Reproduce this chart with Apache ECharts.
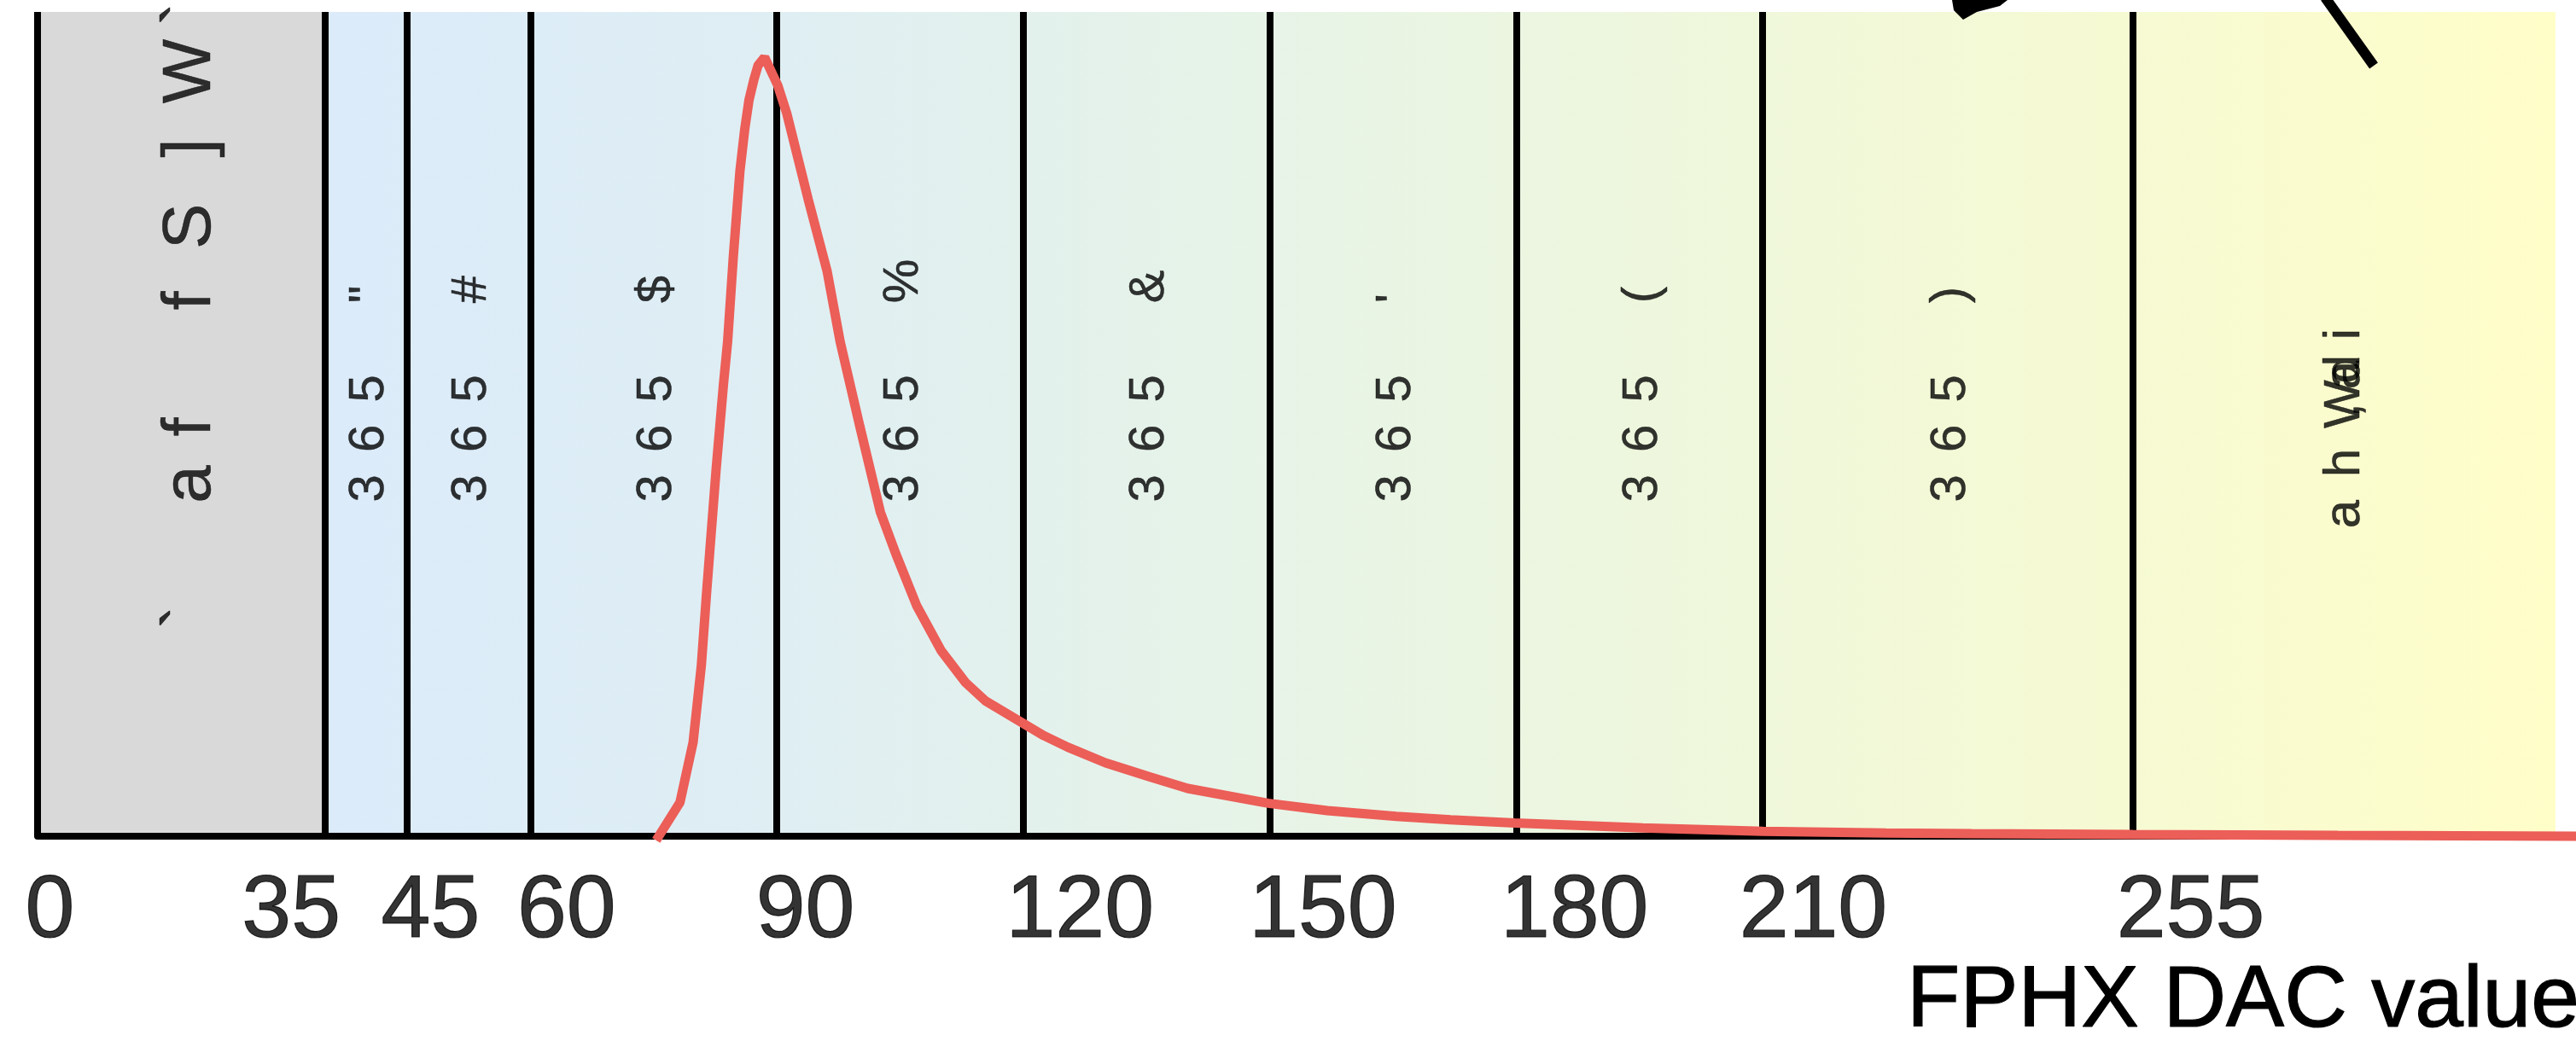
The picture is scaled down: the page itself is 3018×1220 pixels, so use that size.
<!DOCTYPE html>
<html><head><meta charset="utf-8">
<script src="https://cdn.jsdelivr.net/npm/echarts@6/dist/echarts.min.js"></script>
<style>html,body{margin:0;padding:0;background:#fff}#c{width:3018px;height:1220px}</style>
</head><body><div id="c"></div>
<script>
// ---------------- data ----------------
const bandEdges = [0, 35, 45, 60, 90, 120, 150, 180, 210, 255, 306.5];
const tickValues = [0, 35, 45, 60, 90, 120, 150, 180, 210, 255];
// glyphs of each band caption, read bottom-to-top
const bandTexts = [
  '` a f f S ] W `',
  '3 6 5 "',
  '3 6 5 #',
  '3 6 5 $',
  '3 6 5 %',
  '3 6 5 &',
  "3 6 5 '",
  '3 6 5 (',
  '3 6 5 )',
  'a h , W a d i'
];
const curveDac = [75.3, 78.2, 79.8, 80.8, 81.4, 81.8, 82.6, 83.5, 84.0, 84.7, 85.5, 86.1, 86.6, 87.2, 87.7, 88.5,
  90.1, 91.2, 93.8, 96.1, 97.7, 100.1, 102.6, 104.5, 107, 110, 113, 115.4, 119.8, 122.5, 125.4, 130, 135.4,
  140, 149.8, 157, 165.4, 172, 179.8, 188, 195.4, 210, 225, 235.4, 255, 280, 309];
const curveCounts = [-0.5, 4.1, 11.4, 20.7, 29.0, 34.2, 44.5, 54.9, 60.0, 70.4, 80.7, 85.9, 89.3, 91.8, 93.5, 94.5,
  91.1, 87.7, 77.3, 68.6, 60.0, 49.7, 39.3, 34.2, 28.0, 22.5, 18.6, 16.4, 13.8, 12.2, 10.8, 8.9, 7.2,
  5.8, 4.0, 3.1, 2.4, 2.0, 1.6, 1.3, 1.0, 0.6, 0.4, 0.3, 0.2, 0.1, 0.0];
const axisTitle = 'FPHX DAC value';

// ---------------- styles ----------------
const FONT = '"Liberation Sans", Helvetica, Arial, sans-serif';
const TICK_FONT = 104;
const TICK_DX_DEFAULT = -20;
const TICK_DX = {0: -14, 35: -97, 45: -30, 60: -15, 90: -24, 150: -24, 180: -18, 210: -27, 255: -18};
const TICK_DY = 38;
const TEXT_BORDER = 1.2;
// caption layout: font size, anchor (y value of caption start), spacing before each glyph (px),
// shift to the right (px)
const CAPTION = {
  first: {size: 80, anchor: 24.8, gaps: [17, 156, 67, 148, 87, 92, 90, 67], dx: 12, autoLast: false},
  mid: {size: 58, anchor: 39.3, gaps: [28, 58.5, 58.5, 100], dx: 4, autoLast: true},
  last: {size: 60, anchor: 37.3, gaps: [17, 60, 62, 7, 34, 7, 41], dx: 1, autoLast: false}
};
const CAPTION_BORDER = 0.5;

function buildCaption(text, st) {
  const glyphs = text.split(' ');
  const base = {fontSize: st.size, lineHeight: st.size, fontFamily: FONT, color: '#000',
    textBorderColor: '#000', textBorderWidth: CAPTION_BORDER};
  const rich = {
    g: Object.assign({width: 0, align: 'center'}, base),
    t: Object.assign({align: 'center'}, base)
  };
  let s = '';
  glyphs.forEach((gl, i) => {
    const key = 'p' + i;
    rich[key] = Object.assign({width: st.gaps[i], align: 'center'}, base, {textBorderWidth: 0});
    s += '{' + key + '| }';
    s += (st.autoLast && i === glyphs.length - 1) ? '{t|' + gl + '}' : '{g|' + gl + '}';
  });
  return {s, rich};
}

const chart = echarts.init(document.getElementById('c'), null, {renderer: 'canvas', width: 3018, height: 1220});

const bandLabelData = bandTexts.map((t, i) => {
  const st = i === 0 ? CAPTION.first : (i === bandTexts.length - 1 ? CAPTION.last : CAPTION.mid);
  const cap = buildCaption(t, st);
  return {
    name: cap.s,
    value: [(bandEdges[i] + bandEdges[i + 1]) / 2, st.anchor],
    // label is rotated 90deg: local y points to the screen right
    label: {fontSize: st.size, lineHeight: st.size, offset: [0, st.dx], rich: cap.rich}
  };
});

const tickData = tickValues.map(v => ({
  name: String(v),
  value: [v, 0],
  label: {position: [(TICK_DX[v] !== undefined ? TICK_DX[v] : TICK_DX_DEFAULT), TICK_DY]}
}));

const boundaryLines = bandEdges.slice(0, bandEdges.length - 1).map(v => ({
  xAxis: v,
  lineStyle: {width: 8, color: '#000', type: 'solid'}
}));

const gradient = {
  type: 'linear', x: 0, y: 0, x2: 1, y2: 0, global: false,
  colorStops: [
    {offset: 0, color: '#dbebfa'},
    {offset: 0.2, color: '#dfeef3'},
    {offset: 0.4, color: '#e6f3e8'},
    {offset: 0.6, color: '#eef7dd'},
    {offset: 0.8, color: '#f6fad3'},
    {offset: 1, color: '#fffec9'}
  ]
};

const option = {
  animation: false,
  backgroundColor: '#ffffff',
  grid: {left: 44, right: 0, top: 14, bottom: 240, containLabel: false, outerBoundsMode: 'none'},
  xAxis: {
    type: 'value', min: 0, max: 309, z: 8,
    axisLine: {show: true, onZero: false, lineStyle: {color: '#000', width: 8}},
    axisTick: {show: false}, axisLabel: {show: false}, splitLine: {show: false},
    name: axisTitle, nameLocation: 'end', nameGap: 4,
    nameTextStyle: {fontFamily: FONT, fontSize: 102, color: '#000', align: 'right',
      verticalAlign: 'top', lineHeight: 102, padding: [144, 0, 0, 0],
      textBorderColor: '#000', textBorderWidth: TEXT_BORDER}
  },
  yAxis: {type: 'value', min: 0, max: 100, show: false},
  series: [
    {
      name: 'bands', type: 'line', z: 1, silent: true, clip: false,
      data: bandEdges.map(v => [v, 0]),
      showSymbol: false, lineStyle: {width: 0, opacity: 0},
      markArea: {
        silent: true,
        label: {show: false},
        data: [
          [{xAxis: bandEdges[0], itemStyle: {color: '#d9d9d9', opacity: 1}}, {xAxis: bandEdges[1]}],
          [{xAxis: bandEdges[1], itemStyle: {color: gradient, opacity: 1}}, {xAxis: bandEdges[bandEdges.length - 1]}]
        ]
      },
      markLine: {
        silent: true, symbol: 'none', label: {show: false}, animation: false,
        data: boundaryLines
      }
    },
    {
      name: 'band labels', type: 'scatter', z: 6, silent: true,
      symbolSize: 1, itemStyle: {color: 'rgba(0,0,0,0)'},
      data: bandLabelData,
      label: {
        show: true, position: 'inside', rotate: 90, align: 'left', verticalAlign: 'middle',
        fontFamily: FONT, color: '#000', formatter: p => p.name
      }
    },
    {
      name: 'tick labels', type: 'scatter', z: 6, silent: true,
      symbolSize: 1, itemStyle: {color: 'rgba(0,0,0,0)'},
      data: tickData,
      label: {
        show: true, align: 'left', verticalAlign: 'top', fontFamily: FONT,
        fontSize: TICK_FONT, lineHeight: TICK_FONT, color: '#000',
        textBorderColor: '#000', textBorderWidth: TEXT_BORDER, formatter: p => p.name
      }
    },
    {
      name: 'signal', type: 'line', z: 10, clip: false, smooth: false,
      showSymbol: false, silent: true,
      data: curveDac.map((d, i) => [d, curveCounts[i]]),
      lineStyle: {color: '#ec5e58', width: 11}
    }
  ],
  graphic: [
    {type: 'polygon', z: 100, shape: {points: [[2287, 0], [2352, 0], [2343, 7], [2316, 14], [2300, 23], [2289, 12]]}, style: {fill: '#000'}},
    {type: 'line', z: 100, shape: {x1: 2724, y1: -3, x2: 2781, y2: 77}, style: {stroke: '#000', lineWidth: 12}}
  ]
};
chart.setOption(option);
</script>
</body></html>
